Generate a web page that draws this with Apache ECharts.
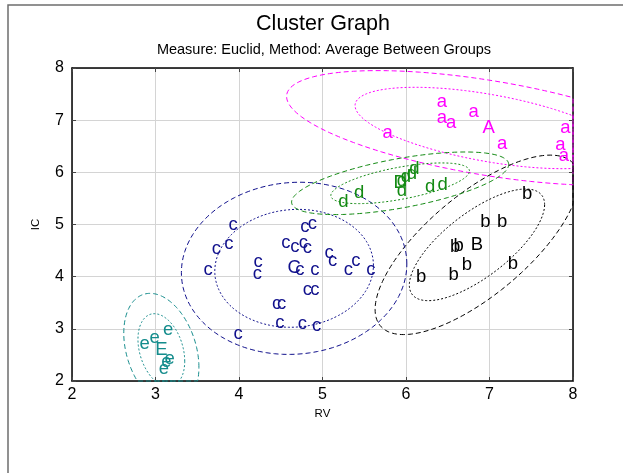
<!DOCTYPE html>
<html>
<head>
<meta charset="utf-8">
<script src="https://cdn.jsdelivr.net/npm/echarts@6/dist/echarts.min.js"></script>
<style>
html,body{margin:0;padding:0;background:#fff;}
#chart{width:623px;height:473px;}
</style>
</head>
<body>
<div id="chart"></div>
<script>
// ---- data ----
const aX = [6.43, 6.43, 6.54, 6.81, 5.78, 7.15, 7.91, 7.85, 7.89];
const aY = [7.35, 7.05, 6.95, 7.15, 6.76, 6.54, 6.85, 6.53, 6.31];
const bX = [7.45, 6.95, 7.15, 6.59, 6.63, 6.73, 6.57, 6.18, 7.28];
const bY = [5.58, 5.05, 5.05, 4.57, 4.59, 4.22, 4.04, 4.00, 4.24];
const cX = [3.93, 3.73, 3.88, 3.63, 4.23, 4.22, 4.79, 4.88, 4.56, 4.67, 4.77, 4.82, 4.73, 4.91,
            5.08, 5.12, 5.31, 5.40, 5.58, 4.82, 4.91, 4.45, 4.51, 4.49, 4.76, 4.93, 3.99];
const cY = [4.99, 4.54, 4.62, 4.13, 4.29, 4.06, 4.96, 5.02, 4.65, 4.57, 4.65, 4.55, 4.13, 4.13,
            4.45, 4.30, 4.13, 4.30, 4.13, 3.74, 3.74, 3.48, 3.48, 3.11, 3.09, 3.05, 2.91];
const dX = [5.25, 5.44, 5.95, 5.95, 6.00, 6.07, 6.10, 6.29, 6.44];
const dY = [5.43, 5.61, 5.65, 5.83, 5.91, 5.97, 6.06, 5.72, 5.76];
const eX = [2.87, 2.99, 3.15, 3.17, 3.13, 3.10];
const eY = [2.72, 2.82, 2.98, 2.43, 2.37, 2.24];

const clusterLetters = ['a', 'b', 'c', 'd', 'e'];
const centroidLabels = ['A', 'B', 'C', 'D', 'E'];
const centroidX = [6.99, 6.85, 4.66, 5.93, 3.07];
const centroidY = [6.85, 4.61, 4.16, 5.79, 2.59];

// ellipse parameters (half extents in data units, correlation)
const innerSX = [1.60, 0.81, 0.95, 0.83, 0.28];
const innerSY = [0.78, 1.07, 1.13, 0.39, 0.70];
const outerSX = [2.42, 1.22, 1.35, 1.30, 0.45];
const outerSY = [1.10, 1.72, 1.65, 0.60, 1.09];
const corr    = [-0.55, 0.72, 0.05, 0.60, -0.30];

const xTicks = [2, 3, 4, 5, 6, 7, 8];
const yTicks = [2, 3, 4, 5, 6, 7, 8];

const titleText = 'Cluster Graph';
const subtitleText = 'Measure: Euclid, Method: Average Between Groups';

// ---- styling ----
const colors = ['#ff00ff', '#000000', '#10108c', '#138a13', '#148c8c'];
const FONT = '"Liberation Sans", Arial, sans-serif';
const clustersX = [aX, bX, cX, dX, eX];
const clustersY = [aY, bY, cY, dY, eY];

// points data: [x, y, clusterIndex, label]
const pointData = [];
clustersX.forEach((xs, k) => {
  xs.forEach((x, i) => pointData.push([x, clustersY[k][i], k, clusterLetters[k]]));
});
centroidX.forEach((x, k) => pointData.push([x, centroidY[k], k, centroidLabels[k]]));

// ellipse data: [cx, cy, sx, sy, r, clusterIndex, kind]
const ellipseData = [];
centroidX.forEach((x, k) => {
  ellipseData.push([x, centroidY[k], outerSX[k], outerSY[k], corr[k], k, 1]);
  ellipseData.push([x, centroidY[k], innerSX[k], innerSY[k], corr[k], k, 0]);
});

const XMIN = xTicks[0], XMAX = xTicks[xTicks.length - 1];
const YMIN = yTicks[0], YMAX = yTicks[yTicks.length - 1];

const chart = echarts.init(document.getElementById('chart'), null, {renderer: 'canvas'});

const axisCommon = {
  type: 'value', interval: 1,
  axisLine: {show: true, lineStyle: {color: '#000', width: 1.5}},
  axisTick: {show: true, inside: true, length: 4, lineStyle: {color: '#444'}},
};

chart.setOption({
  animation: false,
  backgroundColor: '#fff',
  graphic: [
    {
      type: 'polyline', silent: true,
      shape: {points: [[8, 473], [8, 5], [623, 5]]},
      style: {stroke: '#6e6e6e', lineWidth: 1.5, fill: null}
    },
    {
      type: 'text', silent: true, x: 323, y: 24,
      style: {text: titleText, font: '21.5px ' + FONT, fill: '#000',
              align: 'center', verticalAlign: 'middle'}
    },
    {
      type: 'text', silent: true, x: 324, y: 50,
      style: {text: subtitleText, font: '14.5px ' + FONT, fill: '#000',
              align: 'center', verticalAlign: 'middle'}
    }
  ],
  grid: {left: 72, right: 50, top: 68, bottom: 92},
  xAxis: [
    Object.assign({}, axisCommon, {
      min: XMIN, max: XMAX, position: 'bottom',
      name: 'RV', nameLocation: 'middle', nameGap: 26,
      nameTextStyle: {fontFamily: FONT, fontSize: 11.5, color: '#000'},
      axisLabel: {fontFamily: FONT, fontSize: 16, color: '#000', margin: 6},
      splitLine: {show: true, lineStyle: {color: '#d4d4d4', width: 1}}
    }),
    Object.assign({}, axisCommon, {
      min: XMIN, max: XMAX, position: 'top',
      axisLabel: {show: false}, splitLine: {show: false}
    })
  ],
  yAxis: [
    Object.assign({}, axisCommon, {
      min: YMIN, max: YMAX, position: 'left',
      name: 'IC', nameLocation: 'middle', nameGap: 30,
      nameTextStyle: {fontFamily: FONT, fontSize: 11.5, color: '#000'},
      axisLabel: {fontFamily: FONT, fontSize: 16, color: '#000', margin: 8},
      splitLine: {show: true, lineStyle: {color: '#d4d4d4', width: 1}}
    }),
    Object.assign({}, axisCommon, {
      min: YMIN, max: YMAX, position: 'right',
      axisLabel: {show: false}, splitLine: {show: false}
    })
  ],
  series: [
    {
      type: 'custom',
      name: 'ellipses',
      xAxisIndex: 0, yAxisIndex: 0,
      data: ellipseData,
      encode: {x: 0, y: 1},
      clip: false,
      renderItem: function (params, api) {
        const cx = api.value(0), cy = api.value(1);
        const sx = api.value(2), sy = api.value(3), r = api.value(4);
        const k = api.value(5), kind = api.value(6);
        const q = Math.sqrt(1 - r * r);
        const N = 180;
        const pts = [];
        for (let i = 0; i <= N; i++) {
          const t = 2 * Math.PI * i / N;
          let x = cx + sx * Math.cos(t);
          let y = cy + sy * (r * Math.cos(t) + q * Math.sin(t));
          x = Math.max(XMIN, Math.min(XMAX, x));
          y = Math.max(YMIN, Math.min(YMAX, y));
          pts.push(api.coord([x, y]));
        }
        return {
          type: 'polyline',
          shape: {points: pts},
          style: {
            stroke: colors[k], fill: null, lineWidth: 1,
            lineDash: kind === 1 ? [5, 3] : [2, 2]
          }
        };
      },
      z: 2
    },
    {
      type: 'custom',
      name: 'points',
      xAxisIndex: 0, yAxisIndex: 0,
      data: pointData,
      encode: {x: 0, y: 1},
      renderItem: function (params, api) {
        const p = api.coord([api.value(0), api.value(1)]);
        const k = api.value(2);
        const txt = pointData[params.dataIndex][3];
        return {
          type: 'text',
          x: p[0], y: p[1],
          style: {
            text: txt, fill: colors[k],
            font: '18.5px ' + FONT,
            align: 'center', verticalAlign: 'middle'
          }
        };
      },
      z: 3
    }
  ]
});
</script>
</body>
</html>
